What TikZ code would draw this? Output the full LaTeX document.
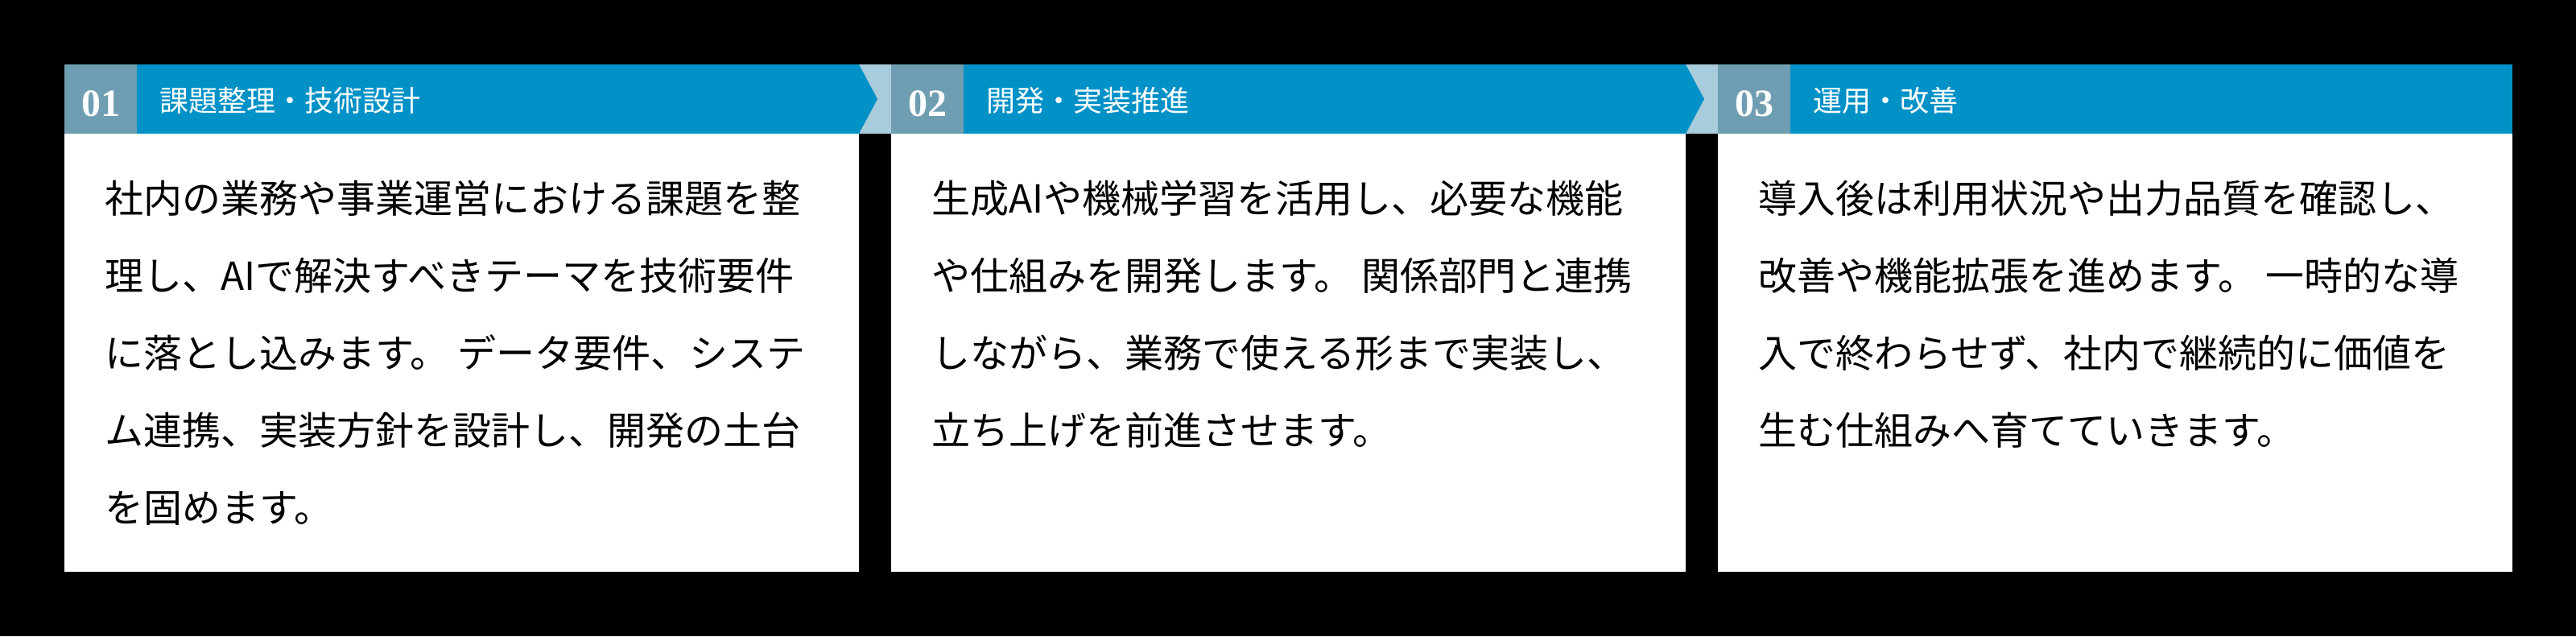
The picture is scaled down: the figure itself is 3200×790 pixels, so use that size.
\documentclass[tikz,border=0pt]{standalone}
\usepackage{fontspec}
\setmainfont{Noto Sans CJK JP}
\newfontfamily\numfont{Liberation Serif}
\usepackage{tikz}

\tikzset{
  hdrband/.style={fill={rgb, 255:red, 0; green, 145; blue, 199 }},
  numtile/.style={fill={rgb, 255:red, 111; green, 158; blue, 178 }},
  joint/.style={fill={rgb, 255:red, 169; green, 204; blue, 220 }},
  bodybox/.style={fill=white},
  numtext/.style={anchor=base, inner sep=0pt, text=white, font=\numfont\bfseries\fontsize{36}{36}\selectfont},
  titletext/.style={anchor=base west, inner sep=0pt, text=white, font=\fontsize{27}{27}\selectfont},
  bodytext/.style={anchor=north west, inner sep=0pt, align=left, text=black, font=\fontsize{36}{72}\selectfont}
}

\begin{document}
\begin{tikzpicture}[x=0.75pt,y=0.75pt,yscale=-1,xscale=1]
        %set diagram size 3200 x 790
        \fill [black] (0,0) rectangle (3200,790);
        \useasboundingbox (0,0) rectangle (3200,790);

        %Shape: Rectangle (joints between the headers)
        \fill [joint] (1067,80) rectangle (1107,166);
        \fill [joint] (2094,80) rectangle (2134,166);

        %Shape: Header 01
        \fill [hdrband] (80,80) -- (1067,80) -- (1090,123) -- (1067,166) -- (80,166) -- cycle;
        \fill [numtile] (80,80) rectangle (170,166);
        \fill [bodybox] (80,166) rectangle (1067,710);
        %Shape: Header 02
        \fill [hdrband] (1107,80) -- (2094,80) -- (2117,123) -- (2094,166) -- (1107,166) -- cycle;
        \fill [numtile] (1107,80) rectangle (1197,166);
        \fill [bodybox] (1107,166) rectangle (2094,710);
        %Shape: Header 03
        \fill [hdrband] (2134,80) rectangle (3121,166);
        \fill [numtile] (2134,80) rectangle (2224,166);
        \fill [bodybox] (2134,166) rectangle (3121,710);

        % Text Node
        \draw (125,144) node [numtext] (num1) {01};
        \draw (198,138) node [titletext] (title1) {課題整理・技術設計};
        \draw (130,224) node [bodytext] (body1) {社内の業務や事業運営における課題を整\\理し、AIで解決すべきテーマを技術要件\\に落とし込みます。 データ要件、システ\\ム連携、実装方針を設計し、開発の土台\\を固めます。};

        % Text Node
        \draw (1152,144) node [numtext] (num2) {02};
        \draw (1225,138) node [titletext] (title2) {開発・実装推進};
        \draw (1157,224) node [bodytext] (body2) {生成AIや機械学習を活用し、必要な機能\\や仕組みを開発します。 関係部門と連携\\しながら、業務で使える形まで実装し、\\立ち上げを前進させます。};

        % Text Node
        \draw (2179,144) node [numtext] (num3) {03};
        \draw (2252,138) node [titletext] (title3) {運用・改善};
        \draw (2184,224) node [bodytext] (body3) {導入後は利用状況や出力品質を確認し、\\改善や機能拡張を進めます。 一時的な導\\入で終わらせず、社内で継続的に価値を\\生む仕組みへ育てていきます。};
\end{tikzpicture}
\end{document}
